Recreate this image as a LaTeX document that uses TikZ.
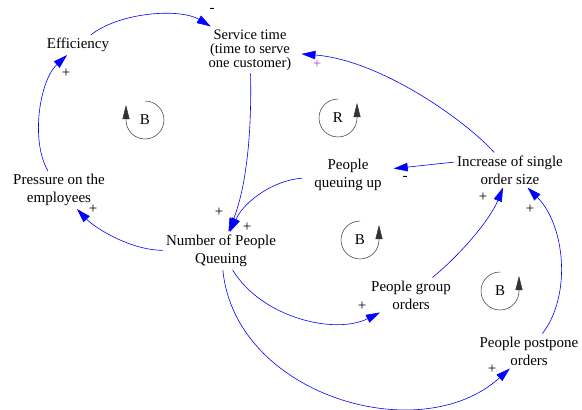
\documentclass[tikz,border=0pt]{standalone}
\usepackage{fontspec}
\setmainfont{Liberation Serif}
\usetikzlibrary{arrows.meta,calc}
\definecolor{plink}{RGB}{0,0,255}
\definecolor{pmag}{RGB}{190,60,200}
\begin{document}
\begin{tikzpicture}[x=1pt,y=-1pt,
  var/.style={align=center, inner sep=3pt, font=\fontsize{15}{18}\selectfont},
  link/.style={draw=plink, line width=0.6pt, -{Triangle[length=14pt,width=8.5pt]}},
  pol/.style={font=\fontsize{15}{15}\selectfont, inner sep=0pt},
  loopc/.style={draw=black!80, line width=0.5pt, -{Triangle[length=14pt,width=7pt]}},
  lbl/.style={font=\fontsize{15}{15}\selectfont, inner sep=0pt}
]
\useasboundingbox (0,0) rectangle (582,410);

% variables
\node[var] (eff) at (78,45) {Efficiency};
\node[var, inner xsep=10pt, font=\fontsize{14.5}{18}\selectfont] (svc) at (250,50) {Service time\\[-4pt](time to serve\\[-4pt]one customer)};
\node[var] (pre) at (59,190) {Pressure on the\\employees};
\node[var] (npq) at (221,251) {Number of People\\Queuing};
\node[var, inner xsep=12pt] (pqu) at (348,175) {People\\queuing up};
\node[var] (inc) at (510,170) {Increase of single\\order size};
\node[var] (pgo) at (411,295) {People group\\orders};
\node[var] (ppo) at (529,351) {People postpone\\orders};

% links
\draw[link] (eff) .. controls (120,12) and (180,8) .. (svc);
\draw[link] (svc) .. controls (252,140) and (245,190) .. (npq);
\draw[link] (pqu) .. controls (275,180) and (245,200) .. (npq);
\draw[link] (npq) .. controls (130,250) and (95,228) .. (pre);
\draw[link] (pre) .. controls (30,140) and (40,80) .. (eff);
\draw[link] (inc) .. controls (465,120) and (380,60) .. (svc);
\draw[link] (inc.172) -- (pqu.8);
\draw[link] (pgo) .. controls (460,255) and (490,220) .. (inc);
\draw[link] (ppo) .. controls (572,295) and (565,225) .. (inc);
\draw[link] (npq) .. controls (262,318) and (335,335) .. ([xshift=12pt]pgo.south west);
\draw[link] (npq) .. controls (235,395) and (420,450) .. (ppo);

% polarities
\node[pol] (p1) at (212,10) {-};
\node[pol] (p2) at (219,212) {+};
\node[pol] (p3) at (247,227) {+};
\node[pol] (p4) at (93,209) {+};
\node[pol] (p5) at (66,73) {+};
\node[pol, text=pmag] (p6) at (317,64) {+};
\node[pol] (p7) at (405,178) {-};
\node[pol] (p8) at (483,197) {+};
\node[pol] (p9) at (530,209) {+};
\node[pol] (p10) at (362,306) {+};
\node[pol] (p11) at (492,369) {+};

% loop markers
\node[lbl] (l1) at (145,120) {B};
\draw[loopc] (145,101) arc[start angle=-90, end angle=180, radius=19] -- ++(0,-15);
\node[lbl] (l2) at (338,118) {R};
\draw[loopc] (338,99) arc[start angle=-90, end angle=-360, radius=19] -- ++(0,-15);
\node[lbl] (l3) at (360,240) {B};
\draw[loopc] (360,221) arc[start angle=-90, end angle=-360, radius=19] -- ++(0,-15);
\node[lbl] (l4) at (500,291) {B};
\draw[loopc] (500,272) arc[start angle=-90, end angle=-360, radius=19] -- ++(0,-15);
\end{tikzpicture}
\end{document}
